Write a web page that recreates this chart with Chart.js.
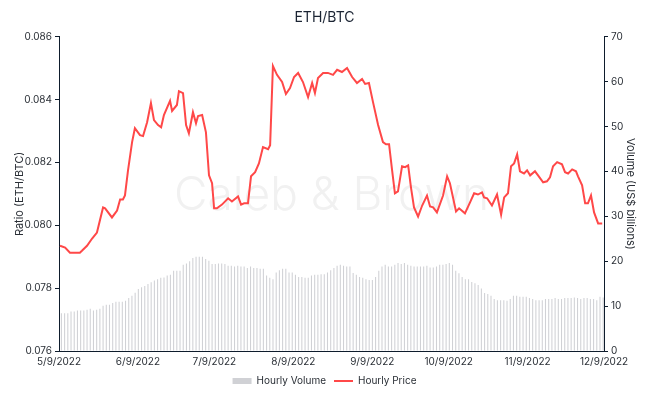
<!DOCTYPE html>
<html>
<head>
<meta charset="utf-8">
<script src="https://cdn.jsdelivr.net/npm/chart.js@4/dist/chart.umd.min.js"></script>
<style>
  html, body { margin: 0; padding: 0; background: #ffffff; }
  #wrap { width: 649px; height: 396px; }
</style>
</head>
<body>
<div id="wrap"><canvas id="c" width="649" height="396"></canvas></div>
<script>
// ---- Data ----
const monthLabels = ['5/9/2022','6/9/2022','7/9/2022','8/9/2022','9/9/2022','10/9/2022','11/9/2022','12/9/2022'];
const monthDays = [0, 31, 61, 92, 123, 153, 184, 214]; // days since 5/9/2022

// Hourly price (ETH/BTC), sampled at days since 5/9/2022
const priceDays = [
  0.4,2.4,4.3,8.2,9.0,11.0,13.0,14.9,17.3,18.1,
  20.8,22.8,24.0,25.1,25.9,27.1,28.7,29.8,31.8,33.0,
  34.6,36.1,37.3,38.9,40.1,41.2,43.6,44.4,46.3,47.1,
  48.7,49.9,51.0,52.6,53.8,54.6,56.2,57.7,58.9,60.1,
  60.9,62.0,64.0,66.4,67.9,70.3,71.5,72.7,74.2,75.4,
  77.0,78.5,80.1,82.1,82.9,84.0,85.6,87.6,89.1,90.7,
  92.3,93.9,95.8,97.8,99.4,100.5,101.7,103.7,105.6,107.6,
  109.2,111.1,113.1,115.1,117.0,119.0,120.2,121.7,123.3,125.3,
  127.2,128.4,129.6,130.8,131.9,133.1,134.7,135.9,137.1,138.2,
  139.4,141.0,142.6,144.5,145.7,146.9,148.4,150.8,152.4,153.5,
  155.9,157.1,159.4,161.4,163.0,164.5,166.1,166.9,168.1,170.0,
  172.0,173.6,174.8,176.3,177.5,178.7,179.9,181.0,182.6,183.8,
  185.0,186.9,188.1,190.1,191.6,192.8,194.0,195.6,197.5,198.7,
  199.9,201.5,203.0,203.8,205.4,206.6,207.7,208.9,210.1,211.7,
  213.3
];
const priceValues = [
  0.07935,0.07929,0.07913,0.07913,0.07919,0.07935,0.07958,0.07977,0.08057,0.08054,
  0.08025,0.08047,0.08082,0.08082,0.08095,0.08175,0.08265,0.08309,0.08287,0.08284,
  0.08328,0.08389,0.08335,0.08319,0.08312,0.08351,0.08396,0.08364,0.08383,0.08427,
  0.08421,0.08319,0.08293,0.08360,0.08325,0.08348,0.08351,0.08296,0.08159,0.08134,
  0.08054,0.08054,0.08066,0.08086,0.08076,0.08092,0.08066,0.08070,0.08070,0.08156,
  0.08169,0.08197,0.08249,0.08242,0.08255,0.08507,0.08479,0.08456,0.08418,0.08437,
  0.08472,0.08485,0.08456,0.08408,0.08453,0.08421,0.08469,0.08485,0.08485,0.08479,
  0.08495,0.08488,0.08501,0.08472,0.08453,0.08466,0.08450,0.08453,0.08392,0.08319,
  0.08265,0.08258,0.08258,0.08175,0.08102,0.08108,0.08188,0.08185,0.08191,0.08121,
  0.08057,0.08028,0.08063,0.08095,0.08060,0.08057,0.08041,0.08095,0.08156,0.08134,
  0.08044,0.08054,0.08038,0.08073,0.08102,0.08098,0.08105,0.08089,0.08086,0.08063,
  0.08098,0.08034,0.08089,0.08102,0.08188,0.08197,0.08226,0.08172,0.08165,0.08175,
  0.08159,0.08172,0.08159,0.08137,0.08140,0.08153,0.08188,0.08201,0.08194,0.08169,
  0.08165,0.08178,0.08172,0.08156,0.08127,0.08070,0.08070,0.08095,0.08041,0.08006,
  0.08006
];

// Hourly volume (US$ billions), evenly spaced samples across the period
const volumeValues = [
  8.4,8.4,8.4,8.8,8.8,9.0,9.0,9.0,9.2,9.4,
  9.0,9.2,9.4,10.1,10.3,10.3,10.7,11.0,11.0,11.0,
  11.2,11.8,12.3,13.0,13.8,14.2,14.5,14.9,15.3,15.7,
  16.0,16.3,16.4,16.8,17.0,17.9,17.9,17.9,19.2,19.5,
  20.0,20.7,21.0,21.0,21.0,20.5,20.1,19.4,19.4,19.5,
  19.5,19.4,19.0,19.0,18.8,19.0,18.8,18.8,18.5,18.8,
  18.5,
  18.5,18.3,18.3,16.8,16.3,16.0,17.5,18.0,18.3,18.3,
  17.5,17.5,17.0,16.5,16.5,16.3,16.3,16.8,17.0,17.0,
  17.1,17.1,17.5,18.0,18.5,19.0,19.2,19.0,18.8,18.8,
  17.4,17.0,16.5,16.3,16.0,15.8,15.8,16.5,17.9,18.8,
  19.2,18.8,18.8,19.2,19.6,19.4,19.6,19.2,19.0,18.8,
  18.8,18.8,18.8,19.0,18.6,18.6,18.8,19.2,19.2,19.4,
  19.6,
  19.2,17.9,17.3,16.5,16.0,16.0,15.4,15.1,14.7,13.9,
  12.9,12.7,12.3,11.6,11.3,11.3,11.3,11.2,11.6,12.3,
  12.3,12.1,12.1,12.1,11.8,11.6,11.3,11.3,11.3,11.6,
  11.6,11.6,11.8,11.6,11.6,11.8,11.8,11.8,11.9,11.8,
  11.6,11.8,11.8,11.6,11.6,11.3,12.1,11.9
];

const ratioTicks = [0.076, 0.078, 0.080, 0.082, 0.084, 0.086];
const volumeTicks = [0, 10, 20, 30, 40, 50, 60, 70];

// ---- Styling ----
const FONT = 'Inter, "Noto Sans", "DejaVu Sans", sans-serif';
const NAVY = '#0e1c2c';
const TEXT = '#2a2f36';

const watermark = {
  id: 'watermark',
  beforeDatasetsDraw(chart) {
    const {ctx, chartArea: a} = chart;
    ctx.save();
    ctx.font = '300 46px ' + FONT;
    ctx.fillStyle = '#f1f1f1';
    ctx.textAlign = 'center';
    ctx.textBaseline = 'middle';
    ctx.fillText('Caleb & Brown', (a.left + a.right) / 2, (a.top + a.bottom) / 2 + 2);
    ctx.restore();
  }
};

const volumeSlots = volumeValues.map((v, i) => String(i));

new Chart(document.getElementById('c'), {
  type: 'bar',
  data: {
    datasets: [
      {
        type: 'line',
        label: 'Hourly Price',
        data: priceDays.map((d, i) => ({x: d, y: priceValues[i]})),
        xAxisID: 'x',
        yAxisID: 'y',
        borderColor: '#ff4848',
        backgroundColor: '#ff4848',
        borderWidth: 2,
        pointRadius: 0,
        pointStyle: 'line',
        tension: 0
      },
      {
        type: 'bar',
        label: 'Hourly Volume',
        data: volumeValues,
        xAxisID: 'xb',
        yAxisID: 'y1',
        backgroundColor: '#d0d1d5',
        borderWidth: 0,
        pointStyle: 'rect',
        categoryPercentage: 1.0,
        barPercentage: 0.66
      }
    ]
  },
  options: {
    responsive: false,
    animation: false,
    devicePixelRatio: 1,
    layout: { padding: { left: 0, right: 0, top: 0, bottom: 0 } },
    plugins: {
      title: {
        display: true,
        text: 'ETH/BTC',
        color: '#1b2433',
        font: { family: FONT, size: 14, weight: 'normal' },
        padding: { top: 9, bottom: 11 }
      },
      legend: {
        position: 'bottom',
        labels: {
          usePointStyle: true,
          pointStyleWidth: 19,
          boxHeight: 6,
          padding: 8,
          color: TEXT,
          font: { family: FONT, size: 10 },
          sort: (a, b) => b.datasetIndex - a.datasetIndex
        }
      },
      tooltip: { enabled: false }
    },
    scales: {
      x: {
        type: 'linear',
        position: 'bottom',
        min: monthDays[0],
        max: monthDays[monthDays.length - 1],
        offset: false,
        grid: { display: false, drawTicks: false, tickLength: 0 },
        border: { display: true, color: NAVY, width: 1 },
        afterBuildTicks: (s) => { s.ticks = monthDays.map(v => ({ value: v })); },
        afterFit: (s) => { s.height = 17; },
        ticks: {
          autoSkip: false,
          maxRotation: 0,
          padding: 5,
          color: TEXT,
          font: { family: FONT, size: 10 },
          callback: (v) => monthLabels[monthDays.indexOf(v)]
        }
      },
      xb: {
        type: 'category',
        labels: volumeSlots,
        offset: true,
        display: false,
        grid: { display: false, offset: true }
      },
      y: {
        type: 'linear',
        position: 'left',
        min: ratioTicks[0],
        max: ratioTicks[ratioTicks.length - 1],
        afterBuildTicks: (s) => { s.ticks = ratioTicks.map(v => ({ value: v })); },
        afterFit: (s) => { s.width = 59; },
        grid: { drawOnChartArea: false, drawTicks: true, tickLength: 4, color: NAVY },
        border: { display: true, color: NAVY, width: 1 },
        ticks: {
          padding: 3,
          color: TEXT,
          font: { family: FONT, size: 10 },
          callback: (v) => v.toFixed(3)
        },
        title: {
          display: true,
          text: 'Ratio (ETH/BTC)',
          color: TEXT,
          font: { family: FONT, size: 11 },
          padding: { top: 13, bottom: 0 }
        }
      },
      y1: {
        type: 'linear',
        position: 'right',
        min: volumeTicks[0],
        max: volumeTicks[volumeTicks.length - 1],
        afterBuildTicks: (s) => { s.ticks = volumeTicks.map(v => ({ value: v })); },
        afterFit: (s) => { s.width = 45; },
        grid: { drawOnChartArea: false, drawTicks: true, tickLength: 4, color: NAVY },
        border: { display: true, color: NAVY, width: 1 },
        ticks: {
          padding: 3,
          color: TEXT,
          font: { family: FONT, size: 10 },
          callback: (v) => String(v)
        },
        title: {
          display: true,
          text: 'Volume (US$ billions)',
          color: TEXT,
          font: { family: FONT, size: 11 },
          padding: { top: 12, bottom: 0 }
        }
      }
    }
  },
  plugins: [watermark]
});
</script>
</body>
</html>
